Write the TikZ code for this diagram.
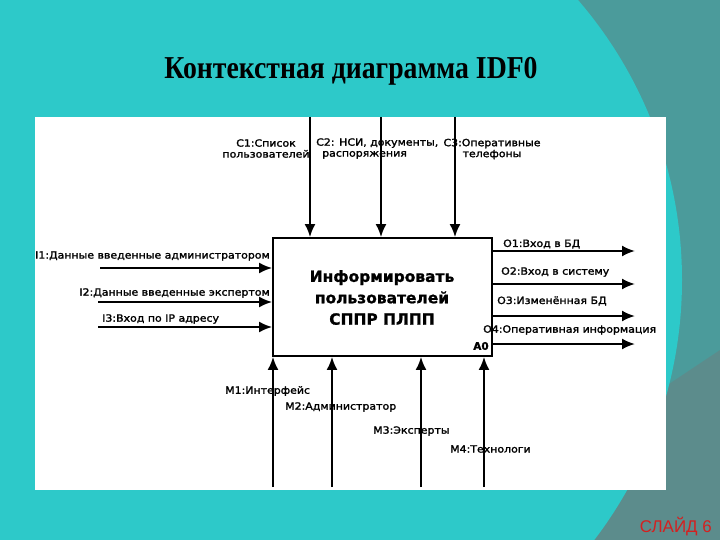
\documentclass[tikz,border=0pt]{standalone}
\usepackage{fontspec}
\setmainfont{DejaVu Sans}
\newfontfamily\titlefont[FakeStretch=0.87]{Liberation Serif}
\newfontfamily\slidefont{Liberation Sans}
\newfontfamily\labfont[FakeStretch=1.1,FakeBold=1.8]{DejaVu Sans}
\newfontfamily\boxfont[FakeBold=1.2]{DejaVu Sans Bold}
\usetikzlibrary{arrows.meta}
\definecolor{bglight}{HTML}{2DC9C9}
\definecolor{bgdark}{HTML}{4B9B9B}
\definecolor{bggray}{HTML}{5C8C8C}
\definecolor{slidered}{HTML}{D42020}
\begin{document}
\begin{tikzpicture}[x=1bp,y=-1bp,
  arr/.style={line width=2bp,-{Latex[length=13bp,width=11bp]}},
  lab/.style={font=\labfont\fontsize{10}{11}\selectfont,inner sep=0pt,text=black},
  mainbox/.style={draw,line width=1.8bp,minimum width=219bp,minimum height=118bp,inner sep=0pt,fill=white},
  boxtext/.style={font=\boxfont\fontsize{15.5}{21.5}\selectfont,align=center,inner sep=0pt}]
\useasboundingbox (0,0) rectangle (720,540);
% background
\fill[bgdark] (0,0) rectangle (720,540);
\fill[bggray] (600,430) -- (720,350) -- (720,540) -- (560,540) -- cycle;
\begin{scope}
\clip (0,0) rectangle (720,540);
\fill[bglight] (253,280) circle[radius=429];
\end{scope}
% title
\node[font=\titlefont\bfseries\fontsize{32}{34}\selectfont] (title) at (351,71) {Контекстная диаграмма IDF0};
% white sheet
\fill[white] (35,117) rectangle (666,490);
% main box
\node[mainbox] (a0) at (382.5,297) {};
\node[boxtext] (a0t) at (382,297.5) {Информировать\\пользователей\\СППР ПЛПП};
\node[font=\boxfont\fontsize{10.5}{12}\selectfont,inner sep=0pt] (a0n) at (481,346) {A0};
% control labels
\node[lab,align=center] (c1l) at (266,148.5) {C1:Список\\пользователей};
\node[lab,align=left,anchor=west] (c2l) at (316,148.5) {C2: НСИ, документы,\\\hspace{6bp}распоряжения};
\node[lab,align=center] (c3l) at (492,149) {C3:Оперативные\\телефоны};
% controls
\coordinate (c1t) at (310,117);
\coordinate (c2t) at (381,117);
\coordinate (c3t) at (455,117);
\draw[arr] (c1t) -- (c1t |- a0.north);
\draw[arr] (c2t) -- (c2t |- a0.north);
\draw[arr] (c3t) -- (c3t |- a0.north);
% input labels
\node[lab,anchor=east] (i1l) at (270,256) {I1:Данные введенные администратором};
\node[lab,anchor=east] (i2l) at (270,293) {I2:Данные введенные экспертом};
\node[lab,anchor=west] (i3l) at (102,319) {I3:Вход по IP адресу};
% inputs
\coordinate (i1s) at (100,268);
\coordinate (i2s) at (98,302);
\coordinate (i3s) at (98,327);
\draw[arr] (i1s) -- (i1s -| a0.west);
\draw[arr] (i2s) -- (i2s -| a0.west);
\draw[arr] (i3s) -- (i3s -| a0.west);
% output labels
\node[lab,anchor=west] (o1l) at (503,244) {O1:Вход в БД};
\node[lab,anchor=west] (o2l) at (501,272) {O2:Вход в систему};
\node[lab,anchor=west] (o3l) at (497,301) {O3:Изменённая БД};
\node[lab,anchor=west] (o4l) at (483,330) {O4:Оперативная информация};
% outputs
\coordinate (o1e) at (635,251);
\coordinate (o2e) at (635,284);
\coordinate (o3e) at (635,316);
\coordinate (o4e) at (635,344);
\draw[arr] (o1e -| a0.east) -- (o1e);
\draw[arr] (o2e -| a0.east) -- (o2e);
\draw[arr] (o3e -| a0.east) -- (o3e);
\draw[arr] (o4e -| a0.east) -- (o4e);
% mechanism labels
\node[lab,anchor=west] (m1l) at (225,391) {M1:Интерфейс};
\node[lab,anchor=west] (m2l) at (285,407) {M2:Администратор};
\node[lab,anchor=west] (m3l) at (373,431) {M3:Эксперты};
\node[lab,anchor=west] (m4l) at (450,449) {M4:Технологи};
% mechanisms
\coordinate (m1b) at (273,487);
\coordinate (m2b) at (332,487);
\coordinate (m3b) at (421,487);
\coordinate (m4b) at (484,487);
\draw[arr] (m1b) -- (m1b |- a0.south);
\draw[arr] (m2b) -- (m2b |- a0.south);
\draw[arr] (m3b) -- (m3b |- a0.south);
\draw[arr] (m4b) -- (m4b |- a0.south);
% slide number
\node[font=\slidefont\fontsize{17}{18}\selectfont,text=slidered,anchor=east,inner sep=0pt] (slide) at (712,527) {СЛАЙД 6};
\end{tikzpicture}
\end{document}
